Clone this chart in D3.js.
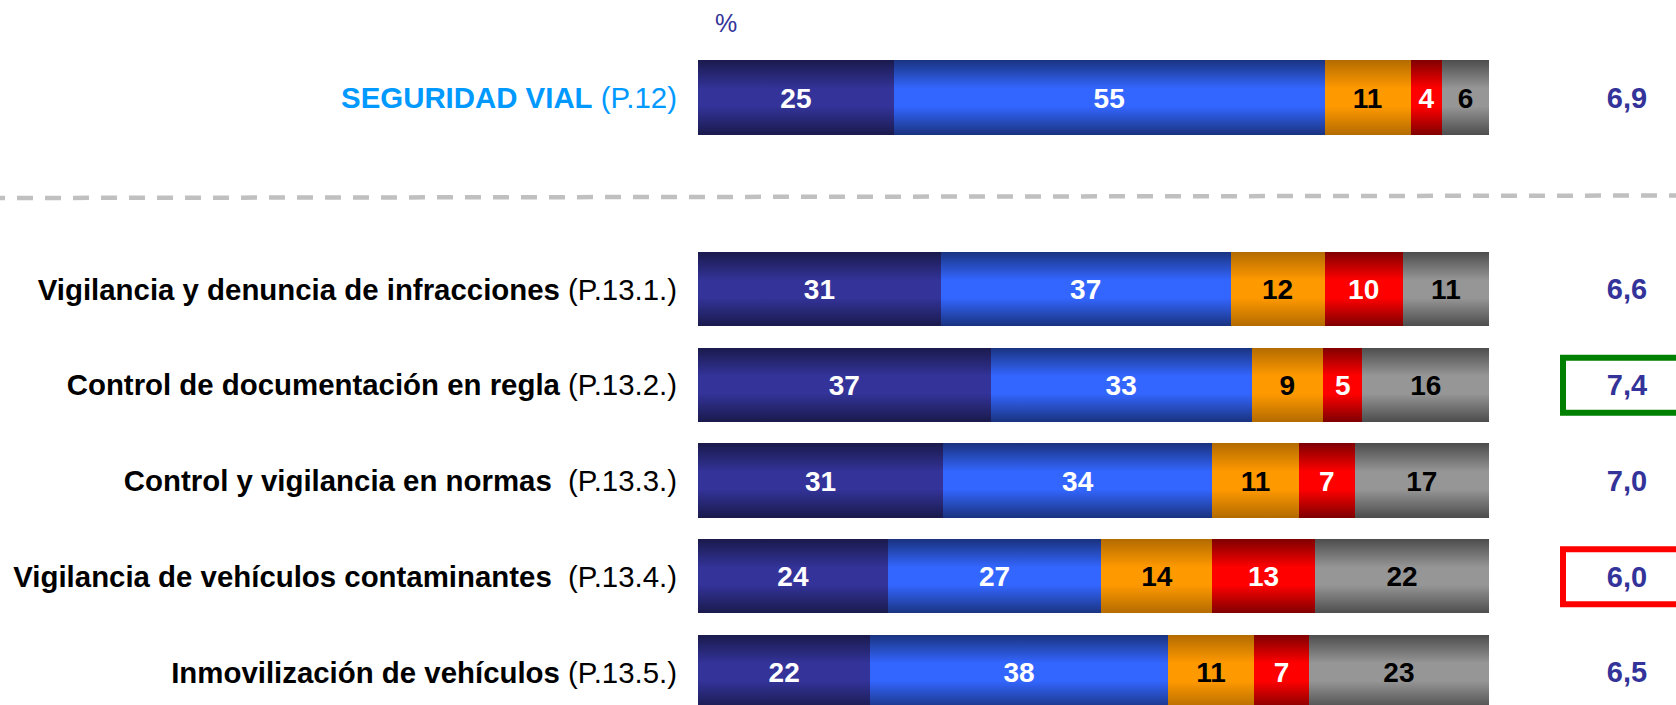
<!DOCTYPE html>
<html>
<head>
<meta charset="utf-8">
<script src="https://cdn.jsdelivr.net/npm/d3@7"></script>
<style>
  body { margin: 0; background: #fff; }
  svg text { font-family: "Liberation Sans", Arial, sans-serif; white-space: pre; }
</style>
</head>
<body>
<div id="chart"></div>
<script>
// Row labels (row 0 is the general question, rows 1-5 the sub-items)
var rowLabels = ["SEGURIDAD VIAL",
    "Vigilancia y denuncia de infracciones",
    "Control de documentación en regla",
    "Control y vigilancia en normas ",
    "Vigilancia de vehículos contaminantes ",
    "Inmovilización de vehículos"];
var rowCodes = ["(P.12)", "(P.13.1.)", "(P.13.2.)", "(P.13.3.)", "(P.13.4.)", "(P.13.5.)"];

// Series values, one array per answer category (%)
var muyBien = [25, 31, 37, 31, 24, 22];
var bastanteBien = [55, 37, 33, 34, 27, 38];
var regular = [11, 12, 9, 11, 14, 11];
var mal = [4, 10, 5, 7, 13, 7];
var nsnc = [6, 11, 16, 17, 22, 23];

// Mean score per row
var scores = [6.9, 6.6, 7.4, 7.0, 6.0, 6.5];
var bestRow = 2, worstRow = 4;

var series = [muyBien, bastanteBien, regular, mal, nsnc];
var seriesNames = ["muyBien", "bastanteBien", "regular", "mal", "nsnc"];

// colours: [edge, centre, label colour]
var palette = [
    ["#1a1a4d", "#333399", "#fff"],
    ["#1a3380", "#3366ff", "#fff"],
    ["#b36b00", "#ff9900", "#000"],
    ["#800000", "#ff0000", "#fff"],
    ["#4d4d4d", "#969696", "#000"]
];

var width = 1676, height = 705;
var svg = d3.select("#chart").append("svg")
    .attr("width", width)
    .attr("height", height);

// gradients (dark edges, light middle)
var defs = svg.append("defs");
palette.forEach(function(c, i) {
    var g = defs.append("linearGradient")
        .attr("id", "grad" + i)
        .attr("x1", 0).attr("y1", 0).attr("x2", 0).attr("y2", 1);
    g.append("stop").attr("offset", "0%").attr("stop-color", c[0]);
    g.append("stop").attr("offset", "38%").attr("stop-color", c[1]);
    g.append("stop").attr("offset", "62%").attr("stop-color", c[1]);
    g.append("stop").attr("offset", "100%").attr("stop-color", c[0]);
});

// scales
var x = d3.scaleLinear().domain([0, 1]).range([698, 1489]);
var yTop = d3.scaleBand().domain([0]).range([60, 135]).padding(0);
var yRows = d3.scaleBand().domain([1, 2, 3, 4, 5])
    .range([252, 709])
    .paddingInner(0.227)
    .paddingOuter(0);

function rowY(i) { return i === 0 ? yTop(0) : yRows(i); }
function rowH(i) { return i === 0 ? yTop.bandwidth() : yRows.bandwidth(); }

// "%" mark
svg.append("text")
    .attr("x", 726)
    .attr("y", 32)
    .attr("text-anchor", "middle")
    .style("font-size", "25px")
    .style("fill", "#333399")
    .text("%");

// dashed separator
svg.append("line")
    .attr("x1", 0).attr("y1", 198)
    .attr("x2", width).attr("y2", 195.5)
    .attr("stroke", "#c0c0c0")
    .attr("stroke-width", 4.5)
    .attr("stroke-dasharray", "16,12")
    .attr("stroke-dashoffset", 11);

// bars
for (let i = 0; i < rowLabels.length; i++) {
    let total = d3.sum(series, function(s) { return s[i]; });
    let cum = 0;
    let y0 = rowY(i), h = rowH(i);
    let row = svg.append("g").attr("class", "row");

    for (let k = 0; k < series.length; k++) {
        let v = series[k][i];
        let a = cum / total, b = (cum + v) / total;
        cum += v;
        row.append("rect")
            .attr("class", seriesNames[k])
            .attr("x", Math.round(x(a)))
            .attr("y", y0)
            .attr("width", Math.round(x(b)) - Math.round(x(a)))
            .attr("height", h)
            .attr("shape-rendering", "crispEdges")
            .attr("fill", "url(#grad" + k + ")");
        row.append("text")
            .attr("x", (x(a) + x(b)) / 2)
            .attr("y", y0 + h / 2)
            .attr("dy", "0.36em")
            .attr("text-anchor", "middle")
            .style("font-size", "28px")
            .style("font-weight", "bold")
            .style("fill", palette[k][2])
            .text(v);
    }

    // left label
    let isTop = i === 0;
    let lab = svg.append("text")
        .attr("x", 677)
        .attr("y", y0 + h / 2)
        .attr("dy", "0.36em")
        .attr("text-anchor", "end")
        .style("font-size", "29.4px")
        .style("fill", isTop ? "#0099ff" : "#000");
    lab.append("tspan").style("font-weight", "bold").text(rowLabels[i]);
    lab.append("tspan").text(" " + rowCodes[i]);

    // score
    svg.append("text")
        .attr("x", 1627)
        .attr("y", y0 + h / 2)
        .attr("dy", "0.36em")
        .attr("text-anchor", "middle")
        .style("font-size", "29px")
        .style("font-weight", "bold")
        .style("fill", "#333399")
        .text(d3.format(".1f")(scores[i]).replace(".", ","));

    // highlight boxes
    if (i === bestRow || i === worstRow) {
        svg.append("rect")
            .attr("x", 1563)
            .attr("y", y0 + h / 2 - 27)
            .attr("width", 140)
            .attr("height", 55)
            .attr("fill", "none")
            .attr("stroke", i === bestRow ? "#008000" : "#ff0000")
            .attr("stroke-width", 6);
    }
}
</script>
</body>
</html>
